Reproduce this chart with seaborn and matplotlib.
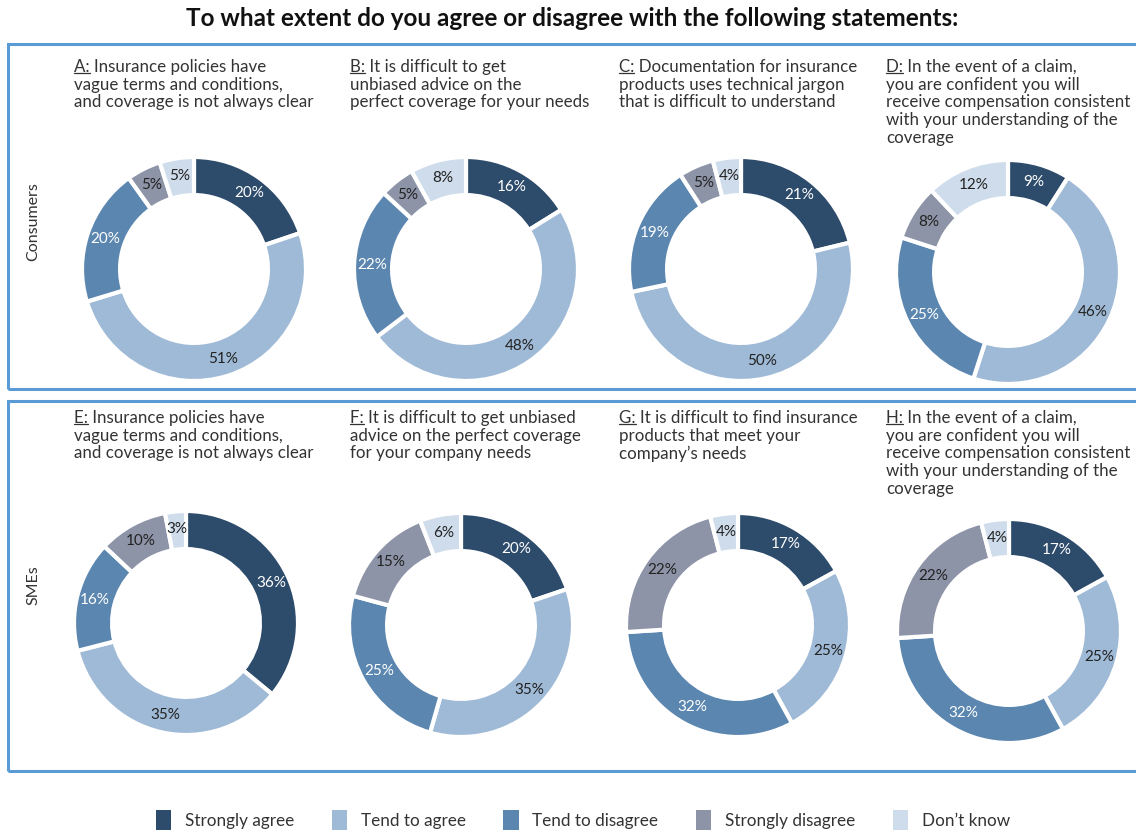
import numpy as np
import matplotlib
matplotlib.use("Agg")
import matplotlib.pyplot as plt
import seaborn as sns
from matplotlib.patches import Patch, Rectangle
from matplotlib.lines import Line2D

sns.set_theme(style="white")
plt.rcParams['font.family'] = ['Lato', 'DejaVu Sans']

# ---------------- data ----------------
categories = ["Strongly agree", "Tend to agree", "Tend to disagree",
              "Strongly disagree", "Don\u2019t know"]
colors = ["#2d4b6b", "#9fbad6", "#5b86b0", "#8e94a8", "#cfdceb"]
label_colors = ["white", "#222222", "white", "#222222", "#222222"]

panel_letters = ["A", "B", "C", "D", "E", "F", "G", "H"]
panel_texts = [
    "Insurance policies have\nvague terms and conditions,\nand coverage is not always clear",
    "It is difficult to get\nunbiased advice on the\nperfect coverage for your needs",
    "Documentation for insurance\nproducts uses technical jargon\nthat is difficult to understand",
    "In the event of a claim,\nyou are confident you will\nreceive compensation consistent\nwith your understanding of the\ncoverage",
    "Insurance policies have\nvague terms and conditions,\nand coverage is not always clear",
    "It is difficult to get unbiased\nadvice on the perfect coverage\nfor your company needs",
    "It is difficult to find insurance\nproducts that meet your\ncompany\u2019s needs",
    "In the event of a claim,\nyou are confident you will\nreceive compensation consistent\nwith your understanding of the\ncoverage",
]
values_A = [20, 51, 20, 5, 5]
values_B = [16, 48, 22, 5, 8]
values_C = [21, 50, 19, 5, 4]
values_D = [9, 46, 25, 8, 12]
values_E = [36, 35, 16, 10, 3]
values_F = [20, 35, 25, 15, 6]
values_G = [17, 25, 32, 22, 4]
values_H = [17, 25, 32, 22, 4]
all_values = [values_A, values_B, values_C, values_D,
              values_E, values_F, values_G, values_H]
row_labels = ["Consumers", "SMEs"]
title = "To what extent do you agree or disagree with the following statements:"

# ---------------- layout (pixels) ----------------
W, H = 1136, 834
fig = plt.figure(figsize=(W / 100, H / 100), dpi=100)
fig.patch.set_facecolor("white")

def fx(x):
    return x / W

def fy(y):
    return 1 - y / H

centers = [(194, 269), (466, 269), (741, 269), (1008, 272),
           (186, 623), (461, 625), (738, 625), (1009, 631)]
R = 112
text_pos = [(74, 59), (350, 59), (619, 59), (886, 59),
            (74, 410), (350, 410), (619, 410), (886, 410)]

frame_color = "#5b9bd5"
for (y0, y1) in [(44, 389), (401, 771)]:
    fig.patches.append(Rectangle((fx(8), fy(y1)), fx(1200) - fx(8), fy(y0) - fy(y1),
                                 transform=fig.transFigure, fill=False,
                                 edgecolor=frame_color, linewidth=2.2))

fig.text(fx(572), fy(19), title, ha="center", va="center",
         fontsize=17.5, fontweight="bold", color="#111111")

fig.text(fx(33), fy(222), row_labels[0], rotation=90, ha="center", va="center",
         fontsize=11.5, color="#333333")
fig.text(fx(33), fy(585), row_labels[1], rotation=90, ha="center", va="center",
         fontsize=11.5, color="#333333")

renderer = fig.canvas.get_renderer()
txt_kw = dict(fontsize=12.2, color="#333333", ha="left", va="top", linespacing=1.13)

for i, vals in enumerate(all_values):
    cx, cy = centers[i]
    ax = fig.add_axes([fx(cx - R), fy(cy + R), 2 * R / W, 2 * R / H])
    wedges, _ = ax.pie(vals, colors=colors, startangle=90, counterclock=False,
                       radius=1.0,
                       wedgeprops=dict(width=0.34, edgecolor="white", linewidth=3))
    ax.set_xlim(-1, 1)
    ax.set_ylim(-1, 1)
    ax.set_aspect("equal")
    ax.axis("off")
    for k, w in enumerate(wedges):
        ang = np.deg2rad((w.theta1 + w.theta2) / 2)
        r = 0.84
        ax.text(r * np.cos(ang), r * np.sin(ang), f"{vals[k]}%",
                ha="center", va="center", fontsize=11,
                color=label_colors[k])

    tx, ty = text_pos[i]
    prefix = panel_letters[i] + ":"
    fig.text(fx(tx), fy(ty), prefix + " " + panel_texts[i], **txt_kw)
    tmp = fig.text(fx(tx), fy(ty), prefix, **txt_kw)
    bb = tmp.get_window_extent(renderer)
    tmp.remove()
    uy = bb.y0 + 0.10 * 12.2 * 100 / 72
    fig.lines.append(Line2D([bb.x0 / W, bb.x1 / W], [uy / H, uy / H],
                            transform=fig.transFigure, color="#333333", lw=0.9))

handles = [Patch(facecolor=c, edgecolor="none") for c in colors]
fig.legend(handles, categories, loc="center", bbox_to_anchor=(fx(583), fy(820)),
           ncol=5, frameon=False, fontsize=12.3, handlelength=0.9, handleheight=1.4,
           handletextpad=0.8, columnspacing=2.2, labelcolor="#333333")

fig.savefig("out.png", dpi=100, facecolor="white")
